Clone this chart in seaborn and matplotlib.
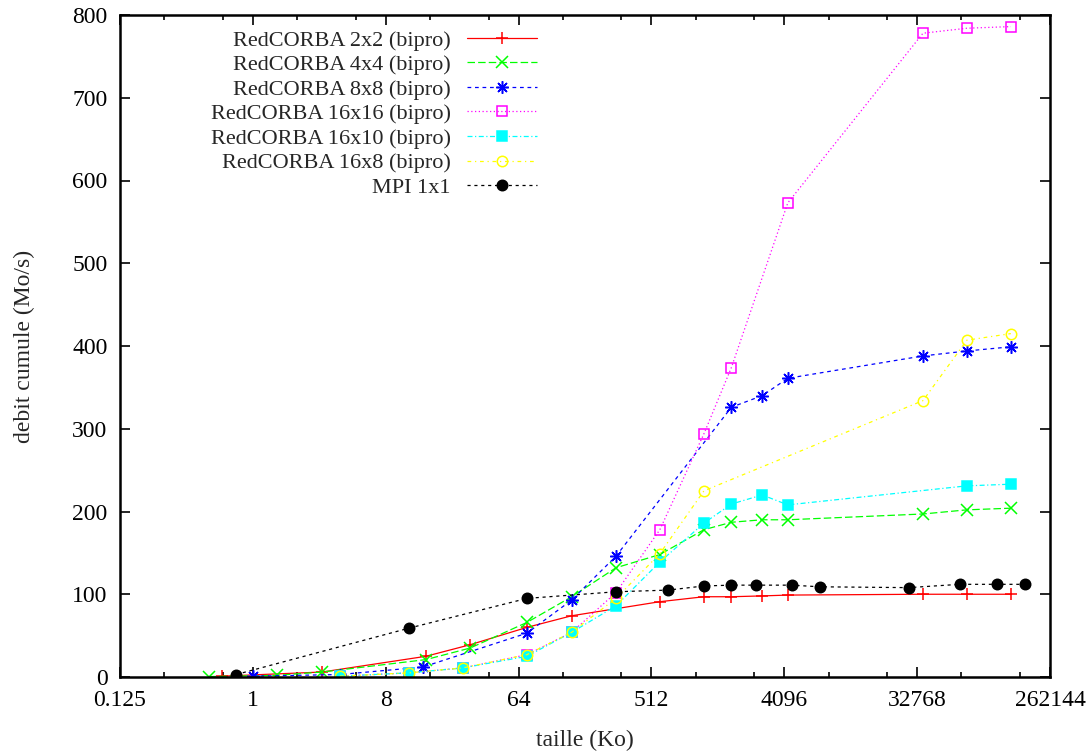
import matplotlib
matplotlib.use("Agg")
import matplotlib.pyplot as plt
import matplotlib.ticker as mticker
import seaborn as sns

# taille (Ko) / debit cumule (Mo/s)
red_x = [0.62, 2.95, 15, 30, 73, 147, 584, 1165, 1790, 2900, 4330, 35900, 71300, 142000]
red_y = [1, 6, 25, 39, 60, 74, 91, 97, 97, 98, 99, 100, 100, 100]

green_x = [0.5, 1.46, 2.95, 15, 30, 73, 147, 294, 584, 1165, 1790, 2900, 4330, 35900, 71300, 142000]
green_y = [0.5, 2, 6, 21, 35, 66, 97, 132, 148, 178, 187, 190, 190, 197, 202, 204]

blue_x = [1.0, 3.9, 14.3, 73, 147, 294, 1790, 2900, 4330, 35900, 71300, 142000]
blue_y = [1, 3, 12, 53, 93, 146, 326, 340, 361, 388, 394, 399]

magenta_x = [3.9, 11.5, 26.8, 73, 147, 294, 584, 1165, 1790, 4330, 35900, 71300, 142000]
magenta_y = [1, 5, 11, 27, 54, 102, 178, 294, 374, 573, 778, 784, 786]

cyan_x = [3.9, 11.5, 26.8, 73, 147, 294, 584, 1165, 1790, 2900, 4330, 71300, 142000]
cyan_y = [1, 5, 11, 25, 54, 86, 139, 186, 209, 220, 208, 231, 233]

yellow_x = [3.9, 11.5, 26.8, 73, 147, 294, 584, 1165, 35900, 71300, 142000]
yellow_y = [1, 5, 11, 27, 54, 95, 149, 225, 334, 407, 415]

black_x = [0.77, 11.5, 73, 294, 663, 1165, 1790, 2630, 4610, 7140, 28700, 64000, 114000, 176000]
black_y = [3, 59, 95, 103, 105, 110, 111, 111, 111, 109, 108, 112, 112, 112]

xticks = [0.125, 1, 8, 64, 512, 4096, 32768, 262144]
xtick_labels = ["0.125", "1", "8", "64", "512", "4096", "32768", "262144"]
yticks = [0, 100, 200, 300, 400, 500, 600, 700, 800]

sns.set_style("ticks")
plt.rcParams["font.family"] = ["Liberation Serif", "DejaVu Serif"]
plt.rcParams["font.size"] = 17

fig = plt.figure(figsize=(10.9, 7.53), dpi=100)
ax = fig.add_axes([120 / 1090, 76 / 753, 930 / 1090, 662 / 753])

series = [
    (red_x, red_y, "RedCORBA 2x2 (bipro)", "#ff0000", "+", "-", 9, False),
    (green_x, green_y, "RedCORBA 4x4 (bipro)", "#00ff00", "x", (0, (6, 2.5)), 8, False),
    (blue_x, blue_y, "RedCORBA 8x8 (bipro)", "#0000ff", (8, 2, 0), (0, (3, 3)), 9, False),
    (magenta_x, magenta_y, "RedCORBA 16x16 (bipro)", "#ff00ff", "s", (0, (1, 2)), 7, True),
    (cyan_x, cyan_y, "RedCORBA 16x10 (bipro)", "#00ffff", "s", (0, (4, 2, 1, 2)), 7, False),
    (yellow_x, yellow_y, "RedCORBA 16x8 (bipro)", "#ffff00", "o", (0, (3, 3, 1, 3)), 7.5, True),
    (black_x, black_y, "MPI 1x1", "#000000", "o", (0, (2.5, 3)), 7.5, False),
]

for xs, ys, name, col, mk, ls, ms, hollow in series:
    sns.lineplot(
        x=xs, y=ys, ax=ax, color=col, linewidth=0.9, linestyle=ls,
        marker=mk, markersize=ms, markeredgewidth=1.1,
        markeredgecolor=col, markerfacecolor="none" if hollow else col,
        label=name, estimator=None, sort=False,
    )

ax.set_xscale("log", base=2)
ax.set_xlim(0.125, 262144)
ax.set_ylim(0, 800)
ax.set_xticks(xticks)
ax.set_xticklabels(xtick_labels)
ax.set_yticks(yticks)
minor = [t * m for t in xticks[:-1] for m in (2, 5)]
ax.xaxis.set_minor_locator(mticker.FixedLocator(minor))
ax.xaxis.set_minor_formatter(mticker.NullFormatter())

ax.tick_params(which="both", direction="in", top=True, right=True, width=1.2, colors="black", labelsize=17)
ax.tick_params(which="major", length=7, pad=9)
ax.tick_params(which="minor", length=3.5)
for s in ax.spines.values():
    s.set_linewidth(1.8)
    s.set_color("black")

ax.set_xlabel("taille (Ko)", fontsize=17, labelpad=14)
ax.set_ylabel("debit cumule (Mo/s)", fontsize=17, labelpad=27)

leg = ax.legend(
    loc="upper right", bbox_to_anchor=((537 - 120) / 930, (677 - 30) / 662),
    frameon=False, markerfirst=False, handlelength=3.15, handletextpad=0.72,
    labelspacing=0.18, borderpad=0, borderaxespad=0, fontsize=16,
)

fig.savefig("out.png", dpi=100)
